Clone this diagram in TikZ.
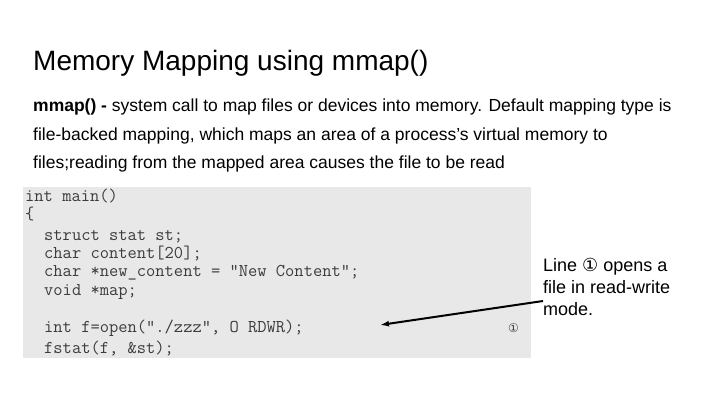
\documentclass[tikz,border=0pt]{standalone}
\usepackage{fontspec}
\setmainfont{Liberation Sans}
\newfontfamily\symfont{DejaVu Sans}
\usetikzlibrary{positioning,arrows.meta}
\definecolor{codebg}{HTML}{E8E8E8}
\definecolor{codefg}{HTML}{3C3C3C}

\begin{document}
\begin{tikzpicture}[x=1pt,y=-1pt]
            \tikzstyle{plain}=[inner sep=0pt,anchor=base west]
            \tikzstyle{bodytext}=[inner sep=0pt,anchor=north west,align=left]
            \tikzstyle{codeline}=[plain,font=\fontsize{18}{19}\ttfamily,text=codefg]
            \useasboundingbox[fill=white] (0,0) rectangle (720,405);
            \node[plain,font=\fontsize{28}{30}\selectfont] (title) at (33,70) {Memory Mapping using mmap()};
            \node[bodytext,font=\fontsize{17.5}{28.5}\selectfont] (intro) at (33,99) {\textbf{mmap() -} system call to map files or devices into memory. Default mapping type is\\
                file-backed mapping, which maps an area of a process's virtual memory to\\
                files;reading from the mapped area causes the file to be read};
            \fill[codebg] (23,187) rectangle (531,358);
            \node[codeline] (l1) at (25,201) {int main()};
            \node[codeline] (l2) at (25,219) {\{};
            \node[codeline] (l3) at (44,240) {struct stat st;};
            \node[codeline] (l4) at (44,258) {char content[20];};
            \node[codeline] (l5) at (44,276) {char *new\_content = "New Content";};
            \node[codeline] (l6) at (44,295) {void *map;};
            \node[codeline] (l7) at (44,332) {int f=open("./zzz", O RDWR);};
            \node[codeline] (l8) at (44,353) {fstat(f, \&st);};
            \node[plain,font=\fontsize{12}{14}\symfont,text=codefg] (mark) at (508,332) {①};
            \node[bodytext,font=\fontsize{18}{22}\selectfont] (note) at (543,258) {Line {\symfont ①} opens a\\
                file in read-write\\
                mode.};
            \coordinate (tip) at (380,325);
            \draw[-{Latex[length=9pt,width=6pt]},line width=2pt] (note.west |- 0,301) -- (tip);
        \end{tikzpicture}
\end{document}
